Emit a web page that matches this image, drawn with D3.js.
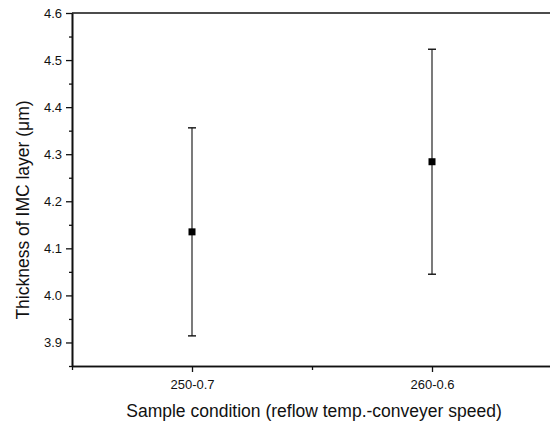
<!DOCTYPE html>
<html>
<head>
<meta charset="utf-8">
<script src="https://cdn.jsdelivr.net/npm/d3@7"></script>
<style>
  body { margin: 0; background: #fff; }
  text { font-family: "Liberation Sans", Arial, sans-serif; fill: #111; }
</style>
</head>
<body>
<svg id="chart" width="550" height="424"></svg>
<script>
// data
const categories = ["250-0.7", "260-0.6"];
const thickness = [4.135, 4.284];
const errors = [0.221, 0.239];
const yTicks = [3.9, 4.0, 4.1, 4.2, 4.3, 4.4, 4.5, 4.6];

const svg = d3.select('#chart');
const plotLeft = 72, plotTop = 13, plotBottom = 366, plotRight = 552;

const xScale = d3.scaleLinear().domain([0.5, 2.5]).range([plotLeft, plotRight]);
const yScale = d3.scaleLinear().domain([3.85, 4.6]).range([plotBottom, plotTop]);

// axes
const yAxis = d3.axisLeft(yScale)
    .tickValues(yTicks)
    .tickFormat(d3.format('.1f'))
    .tickSize(6)
    .tickSizeOuter(0);
const yMinor = d3.axisLeft(yScale)
    .tickValues(yTicks.map(d => d - 0.05))
    .tickFormat('')
    .tickSize(3)
    .tickSizeOuter(0);
const xAxis = d3.axisBottom(xScale)
    .tickValues([1, 2])
    .tickFormat((d, i) => categories[i])
    .tickSize(6)
    .tickSizeOuter(0);
const xMinor = d3.axisBottom(xScale)
    .tickValues([0.5, 1.5])
    .tickFormat('')
    .tickSize(4)
    .tickSizeOuter(0);

const yG = svg.append('g').attr('transform', `translate(${plotLeft},0)`).call(yAxis);
svg.append('g').attr('transform', `translate(${plotLeft},0)`).call(yMinor);
const xG = svg.append('g').attr('transform', `translate(0,${plotBottom})`).call(xAxis);
svg.append('g').attr('transform', `translate(0,${plotBottom})`).call(xMinor);

svg.selectAll('.domain').attr('stroke', '#111').attr('stroke-width', 1.6);
svg.selectAll('.tick line').attr('stroke', '#111').attr('stroke-width', 1.3);
yG.selectAll('.tick text')
    .attr('font-size', 13).attr('x', -10).attr('fill', '#111');
xG.selectAll('.tick text')
    .attr('font-size', 13).attr('y', 23).attr('dy', 0).attr('fill', '#111');

// top frame line
svg.append('line')
    .attr('x1', plotLeft).attr('x2', 550)
    .attr('y1', plotTop).attr('y2', plotTop)
    .attr('stroke', '#111').attr('stroke-width', 1.6);

// error bars
const chart = svg.append('g');
const capHalf = 4;
chart.selectAll('.err')
    .data(thickness)
    .join('line')
    .attr('class', 'err')
    .attr('x1', (d, i) => xScale(i + 1))
    .attr('x2', (d, i) => xScale(i + 1))
    .attr('y1', (d, i) => yScale(d + errors[i]))
    .attr('y2', (d, i) => yScale(d - errors[i]))
    .attr('stroke', '#222').attr('stroke-width', 1.2);
chart.selectAll('.capTop')
    .data(thickness)
    .join('line')
    .attr('class', 'capTop')
    .attr('x1', (d, i) => xScale(i + 1) - capHalf)
    .attr('x2', (d, i) => xScale(i + 1) + capHalf)
    .attr('y1', (d, i) => yScale(d + errors[i]))
    .attr('y2', (d, i) => yScale(d + errors[i]))
    .attr('stroke', '#111').attr('stroke-width', 1.4);
chart.selectAll('.capBot')
    .data(thickness)
    .join('line')
    .attr('class', 'capBot')
    .attr('x1', (d, i) => xScale(i + 1) - capHalf)
    .attr('x2', (d, i) => xScale(i + 1) + capHalf)
    .attr('y1', (d, i) => yScale(d - errors[i]))
    .attr('y2', (d, i) => yScale(d - errors[i]))
    .attr('stroke', '#111').attr('stroke-width', 1.4);

// square markers
const sq = 7;
chart.selectAll('.pt')
    .data(thickness)
    .join('rect')
    .attr('class', 'pt')
    .attr('x', (d, i) => xScale(i + 1) - sq / 2)
    .attr('y', d => yScale(d) - sq / 2)
    .attr('width', sq).attr('height', sq)
    .attr('fill', '#000');

// axis titles
svg.append('text')
    .attr('x', 314).attr('y', 417)
    .attr('text-anchor', 'middle')
    .attr('font-size', 17.5)
    .text('Sample condition (reflow temp.-conveyer speed)');
svg.append('text')
    .attr('transform', `translate(29,210) rotate(-90)`)
    .attr('text-anchor', 'middle')
    .attr('font-size', 17.5)
    .text('Thickness of IMC layer (\u03bcm)');
</script>
</body>
</html>
